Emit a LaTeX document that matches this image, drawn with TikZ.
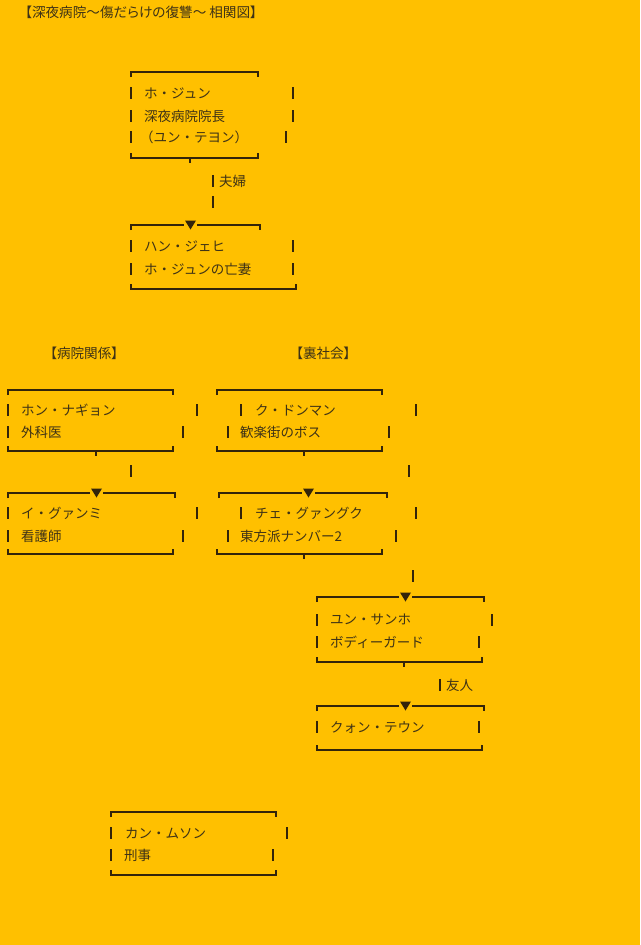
\documentclass[tikz,border=0pt]{standalone}
\usepackage{fontspec}
\newfontfamily\jpfont{Noto Sans CJK JP}
\newfontfamily\jptitle[RawFeature=+palt]{Noto Sans CJK JP}
\usepackage{xcolor}
\definecolor{bgorange}{HTML}{FFC000}
\definecolor{inkbrown}{HTML}{33240A}
\definecolor{textbrown}{HTML}{3E3216}

\begin{document}
\begin{tikzpicture}[x=1pt,y=-1pt]
  \tikzset{Name/.style={%
             anchor=west,%
             inner sep=0pt,%
             text=textbrown,%
             font=\jpfont\fontsize{13.5}{16}\selectfont,%
           },
           Heading/.style={Name, font=\jptitle\fontsize{13.6}{16}\selectfont},
           Bar/.style={draw=inkbrown, line width=1.6pt},
           Stroke/.style={draw=inkbrown, line width=2pt}}

  \fill[bgorange] (0,0) rectangle (640,945);
  \useasboundingbox (0,0) rectangle (640,945);

  % headings
  \node[Heading] (title) at (25,12) {【深夜病院～傷だらけの復讐～ 相関図】};
  \node[Heading] (hosp) at (50,353) {【病院関係】};
  \node[Heading] (under) at (296,353) {【裏社会】};

  % people
  \node[Name] (hojun) at (144,93) {ホ・ジュン};
  \node[Name] (hojunRole) at (144,116) {深夜病院院長};
  \node[Name] (hojunCast) at (140,137) {（ユン・テヨン）};
  \node[Name] (han) at (144,246) {ハン・ジェヒ};
  \node[Name] (hanRole) at (144,269) {ホ・ジュンの亡妻};
  \node[Name] (hong) at (21,410) {ホン・ナギョン};
  \node[Name] (hongRole) at (21,432) {外科医};
  \node[Name] (lee) at (21,513) {イ・グァンミ};
  \node[Name] (leeRole) at (21,536) {看護師};
  \node[Name] (ku) at (255,410) {ク・ドンマン};
  \node[Name] (kuRole) at (240,432) {歓楽街のボス};
  \node[Name] (choi) at (255,513) {チェ・グァングク};
  \node[Name] (choiRole) at (240,536) {東方派ナンバー2};
  \node[Name] (yoon) at (330,620) {ユン・サンホ};
  \node[Name] (yoonRole) at (330,642) {ボディーガード};
  \node[Name] (kwon) at (330,727) {クォン・テウン};
  \node[Name] (kang) at (125,833) {カン・ムソン};
  \node[Name] (kangRole) at (124,855) {刑事};

  % relation labels
  \node[Name] (couple) at (219,181) {夫婦};
  \node[Name] (friend) at (446,685) {友人};

  % top brackets
  \foreach \xa/\xb/\y in {131/258/72, 8/173/390, 217/382/390, 111/276/812}
    \draw[Bar] (\xa,\y+5) -- (\xa,\y) -- (\xb,\y) -- (\xb,\y+5);

  % top brackets with arrow tip
  \foreach \xa/\xb/\y/\xt in {131/260/225/190, 8/175/493/96, 219/387/493/308,
                              317/484/597/405, 317/484/706/405} {
    \draw[Bar] (\xa,\y+5) -- (\xa,\y) -- (\xt-6,\y);
    \draw[Bar] (\xt+7,\y) -- (\xb,\y) -- (\xb,\y+5);
    \fill[inkbrown] (\xt-5,\y-4.5) -- (\xt+6,\y-4.5) -- (\xt+0.5,\y+4.5) -- cycle;
  }

  % bottom brackets
  \foreach \xa/\xb/\y in {131/258/158, 131/296/289, 8/173/451, 8/173/554,
                          217/382/451, 217/382/554, 317/482/662, 317/482/750,
                          111/276/875}
    \draw[Bar] (\xa,\y-5) -- (\xa,\y) -- (\xb,\y) -- (\xb,\y-5);
  \foreach \x/\y in {190/158, 96/451, 304/451, 304/554, 404/662}
    \draw[Bar] (\x,\y) -- (\x,\y+5);

  % side bars
  \foreach \x/\y in {131/93, 131/116, 131/137, 293/93, 293/116, 286/137,
                     131/246, 131/269, 293/246, 293/269,
                     8/410, 8/432, 197/410, 183/432,
                     8/513, 8/536, 197/513, 183/536,
                     241/410, 228/432, 416/410, 389/432,
                     241/513, 228/536, 416/513, 396/536,
                     317/620, 317/642, 492/620, 479/642,
                     317/727, 479/727,
                     111/833, 111/855, 287/833, 273/855}
    \draw[Stroke] (\x,\y-6) -- (\x,\y+6);

  % links between boxes
  \foreach \x/\y in {213/181, 213/202, 131/471, 409/471, 413/576, 440/685}
    \draw[Stroke] (\x,\y-6) -- (\x,\y+6);
\end{tikzpicture}
\end{document}
